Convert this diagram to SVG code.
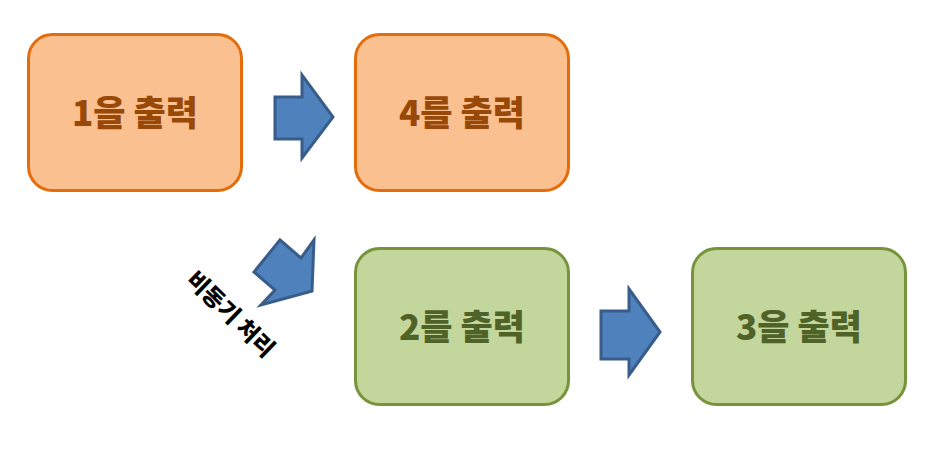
<svg xmlns="http://www.w3.org/2000/svg" width="949" height="461" viewBox="0 0 949 461">
<style>
.orange rect{fill:#FAC090;stroke:#E46C0A;stroke-width:3}
.green rect{fill:#C3D69B;stroke:#77933C;stroke-width:3}
.lbl{font-family:"Noto Sans CJK KR","Noto Sans",sans-serif;font-weight:900;font-size:35px;text-anchor:middle}
.orange text{fill:#984807}
.green text{fill:#4F6228}
.arr{fill:#4F81BD;stroke:#385D8A;stroke-width:3;stroke-linejoin:miter}
.note{font-family:"Noto Sans CJK KR","Noto Sans",sans-serif;font-weight:900;font-size:23px;text-anchor:middle;fill:#000}
</style>
<rect width="949" height="461" fill="#fff"/>
<g id="node1" class="orange"><rect x="28.5" y="34.5" width="213" height="156" rx="24"/><text class="lbl" x="135" y="126">1을 출력</text></g>
<g id="node4" class="orange"><rect x="355.5" y="34.5" width="213" height="156" rx="24"/><text class="lbl" x="462" y="126">4를 출력</text></g>
<g id="node2" class="green"><rect x="355.5" y="248.5" width="213" height="156" rx="24"/><text class="lbl" x="462" y="340">2를 출력</text></g>
<g id="node3" class="green"><rect x="692.5" y="248.5" width="213" height="156" rx="24"/><text class="lbl" x="799" y="340">3을 출력</text></g>
<g id="connectors">
<polygon class="arr" points="275,97 302,97 302,75 333,117 302,158 302,139 275,139"/>
<polygon class="arr" points="601,311 629,311 629,289 660,332 629,375 629,359 601,359"/>
<polygon class="arr" points="280,240 301,258 314,240 312,291 261,305 275,290 254,272"/>
</g>
<text class="note" transform="translate(225,320) rotate(44)" x="0" y="0">비동기 처리</text>
</svg>
